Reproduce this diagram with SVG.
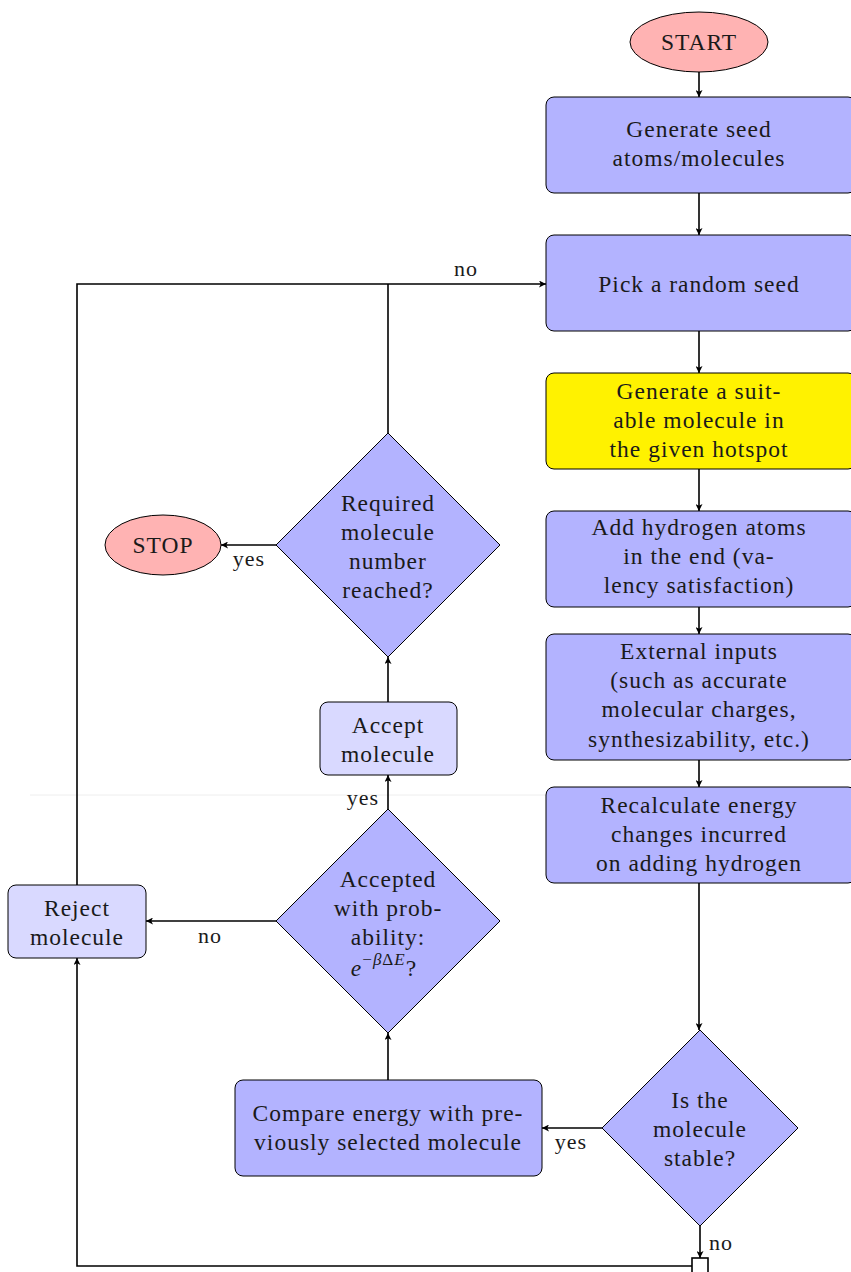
<svg xmlns="http://www.w3.org/2000/svg" width="851" height="1272" viewBox="0 0 851 1272">
<defs>
<style>
.blue{fill:#b3b3ff;stroke:#000;stroke-width:1}
.light{fill:#d9d9ff;stroke:#000;stroke-width:1}
.red{fill:#ffb3b3;stroke:#000;stroke-width:1}
.yellow{fill:#fff200;stroke:#000;stroke-width:1}
.c{fill:none;stroke:#000;stroke-width:1.6}
text{font-family:"Liberation Serif","DejaVu Serif",serif;font-size:23.5px;letter-spacing:1px;fill:#1a1a1a;text-anchor:middle;dominant-baseline:central}
.lbl{font-size:22px}
</style>
<marker id="arr" viewBox="0 0 10 10" refX="10" refY="5" markerWidth="7" markerHeight="7" orient="auto" markerUnits="userSpaceOnUse">
<path d="M0,0 L10,5 L0,10 L2.5,5 Z" fill="#000"/>
</marker>
</defs>
<rect width="851" height="1272" fill="#fff"/>
<line x1="30" y1="795" x2="546" y2="795" stroke="#eeeeee" stroke-width="1"/>
<g id="connectors">
<line class="c" x1="699" y1="72" x2="699" y2="97" marker-end="url(#arr)"/>
<line class="c" x1="699" y1="193" x2="699" y2="235" marker-end="url(#arr)"/>
<line class="c" x1="699" y1="331" x2="699" y2="373" marker-end="url(#arr)"/>
<line class="c" x1="699" y1="469" x2="699" y2="511" marker-end="url(#arr)"/>
<line class="c" x1="699" y1="607" x2="699" y2="634" marker-end="url(#arr)"/>
<line class="c" x1="699" y1="760" x2="699" y2="787" marker-end="url(#arr)"/>
<line class="c" x1="699" y1="883" x2="699" y2="1030" marker-end="url(#arr)"/>
<line class="c" x1="602" y1="1128" x2="542" y2="1128" marker-end="url(#arr)"/>
<line class="c" x1="388" y1="1080" x2="388" y2="1033" marker-end="url(#arr)"/>
<line class="c" x1="276" y1="921" x2="146" y2="921" marker-end="url(#arr)"/>
<line class="c" x1="388" y1="809" x2="388" y2="775" marker-end="url(#arr)"/>
<line class="c" x1="388" y1="702" x2="388" y2="657" marker-end="url(#arr)"/>
<line class="c" x1="276" y1="545" x2="221" y2="545" marker-end="url(#arr)"/>
<line class="c" x1="388" y1="433" x2="388" y2="284"/>
<polyline class="c" points="77,885 77,284 546,284" marker-end="url(#arr)"/>
<line class="c" x1="700" y1="1226" x2="700" y2="1258" marker-end="url(#arr)"/>
<polyline class="c" points="692,1266 77,1266 77,958" marker-end="url(#arr)"/>
<text class="lbl" x="466" y="268">no</text>
<text class="lbl" x="249" y="558">yes</text>
<text class="lbl" x="363" y="797">yes</text>
<text class="lbl" x="210" y="935">no</text>
<text class="lbl" x="571" y="1141">yes</text>
<text class="lbl" x="721" y="1242">no</text>
</g>
<g id="start"><ellipse class="red" cx="699" cy="42" rx="69" ry="30"/><text x="699" y="42">START</text></g>
<g id="seed"><rect class="blue" x="546" y="97" width="310" height="96" rx="8"/><text x="699" y="129">Generate seed</text><text x="699" y="158">atoms/molecules</text></g>
<g id="pick"><rect class="blue" x="546" y="235" width="310" height="96" rx="8"/><text x="699" y="284">Pick a random seed</text></g>
<g id="generate"><rect class="yellow" x="546" y="373" width="310" height="96" rx="8"/><text x="699" y="391">Generate a suit-</text><text x="699" y="420">able molecule in</text><text x="699" y="449">the given hotspot</text></g>
<g id="hydrogen"><rect class="blue" x="546" y="511" width="310" height="96" rx="8"/><text x="699" y="527">Add hydrogen atoms</text><text x="699" y="556">in the end (va-</text><text x="699" y="585">lency satisfaction)</text></g>
<g id="external"><rect class="blue" x="546" y="634" width="310" height="126" rx="8"/><text x="699" y="651">External inputs</text><text x="699" y="680">(such as accurate</text><text x="699" y="709">molecular charges,</text><text x="699" y="739">synthesizability, etc.)</text></g>
<g id="recalc"><rect class="blue" x="546" y="787" width="310" height="96" rx="8"/><text x="699" y="805">Recalculate energy</text><text x="699" y="834">changes incurred</text><text x="699" y="863">on adding hydrogen</text></g>
<g id="stable"><polygon class="blue" points="700,1030 798,1128 700,1226 602,1128"/><text x="700" y="1100">Is the</text><text x="700" y="1129">molecule</text><text x="700" y="1158">stable?</text></g>
<g id="junction"><rect x="692" y="1258" width="16" height="16" fill="#fff" stroke="#000" stroke-width="1.6"/></g>
<g id="compare"><rect class="blue" x="235" y="1080" width="307" height="96" rx="8"/><text x="388" y="1113">Compare energy with pre-</text><text x="388" y="1142">viously selected molecule</text></g>
<g id="accepted"><polygon class="blue" points="388,809 500,921 388,1033 276,921"/><text x="388" y="879">Accepted</text><text x="388" y="908">with prob-</text><text x="388" y="937">ability:</text><text x="384" y="968"><tspan font-style="italic">e</tspan><tspan font-size="17" dy="-9">−<tspan font-style="italic">β</tspan>Δ<tspan font-style="italic">E</tspan></tspan><tspan dy="9">?</tspan></text></g>
<g id="reject"><rect class="light" x="8" y="885" width="138" height="73" rx="8"/><text x="77" y="908">Reject</text><text x="77" y="937">molecule</text></g>
<g id="accept"><rect class="light" x="320" y="702" width="137" height="73" rx="8"/><text x="388" y="725">Accept</text><text x="388" y="754">molecule</text></g>
<g id="required"><polygon class="blue" points="388,433 500,545 388,657 276,545"/><text x="388" y="503">Required</text><text x="388" y="532">molecule</text><text x="388" y="561">number</text><text x="388" y="590">reached?</text></g>
<g id="stop"><ellipse class="red" cx="163" cy="545" rx="58" ry="30"/><text x="163" y="545">STOP</text></g>
</svg>
